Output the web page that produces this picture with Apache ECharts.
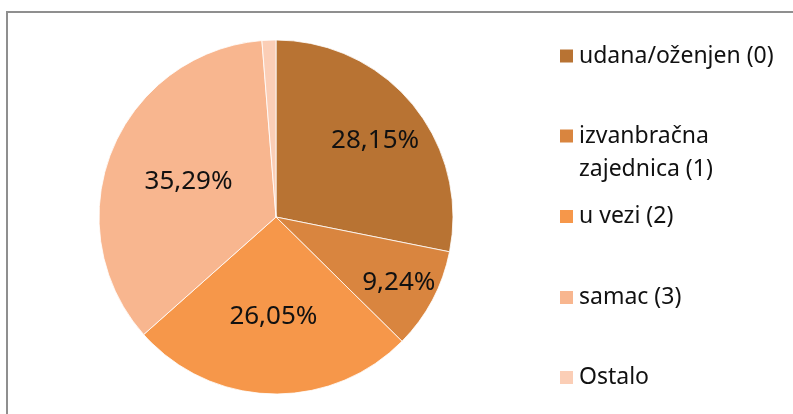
<!DOCTYPE html>
<html>
<head>
<meta charset="utf-8">
<script src="https://cdn.jsdelivr.net/npm/echarts@6/dist/echarts.min.js"></script>
<style>
  html, body { margin: 0; padding: 0; background: #fff; }
  #chart { width: 793px; height: 414px; }
</style>
</head>
<body>
<div id="chart"></div>
<script>
// podaci
const categories = ['udana/oženjen (0)', 'izvanbračna zajednica (1)', 'u vezi (2)', 'samac (3)', 'Ostalo'];
const values = [28.15, 9.24, 26.05, 35.29, 1.27];
const colors = ['#B87333', '#D9853F', '#F6974A', '#F8B68F', '#FBCEB6'];

// pomak natpisa od središta (omjer prema zadanom "inside" položaju)
const labelScale = [1.4, 1.52, 1.085, 1.03, 1];
const legendTop = [39.5, 86.5, 200, 281, 361];

const CX = 276, CY = 217, R = 177;
const FONT = '"Noto Sans", "DejaVu Sans", sans-serif';

const chart = echarts.init(document.getElementById('chart'), null, { renderer: 'canvas' });

const seriesData = categories.map((name, i) => ({
  name: name,
  value: values[i],
  itemStyle: { color: colors[i] },
  label: { show: name !== 'Ostalo' }
}));

const legends = categories.map((name, i) => {
  const twoLine = name.indexOf('zajednica') >= 0;
  return {
    data: [name],
    orient: 'vertical',
    left: 558,
    top: legendTop[i],
    padding: 0,
    itemWidth: 15,
    itemHeight: 15,
    icon: 'rect',
    selectedMode: false,
    // prazan red iznad da prvi red teksta stoji uz kvadratić
    formatter: twoLine ? () => ' \nizvanbračna\nzajednica (1)' : undefined,
    textStyle: {
      fontFamily: FONT,
      fontSize: 23,
      lineHeight: 33,
      color: '#111'
    }
  };
});

const option = {
  animation: false,
  backgroundColor: '#fff',
  legend: legends,
  graphic: [{
    type: 'rect',
    shape: { x: 7, y: 12, width: 820, height: 440 },
    style: { fill: 'none', stroke: '#8f8f8f', lineWidth: 2 },
    silent: true
  }],
  series: [{
    type: 'pie',
    center: [CX, CY],
    radius: [0, R],
    startAngle: 90,
    clockwise: true,
    data: seriesData,
    itemStyle: { borderColor: '#fff', borderWidth: 0.8 },
    label: {
      position: 'inside',
      fontFamily: FONT,
      fontSize: 26,
      color: '#111',
      formatter: p => p.value.toFixed(2).replace('.', ',') + '%'
    },
    labelLine: { show: false },
    labelLayout: function (params) {
      const r = params.labelRect;
      const lx = r.x + r.width / 2;
      const ly = r.y + r.height / 2;
      const k = labelScale[params.dataIndex] - 1;
      return { dx: (lx - CX) * k, dy: (ly - CY) * k + (params.dataIndex === 0 ? 5 : 0) };
    }
  }]
};

chart.setOption(option);
</script>
</body>
</html>
